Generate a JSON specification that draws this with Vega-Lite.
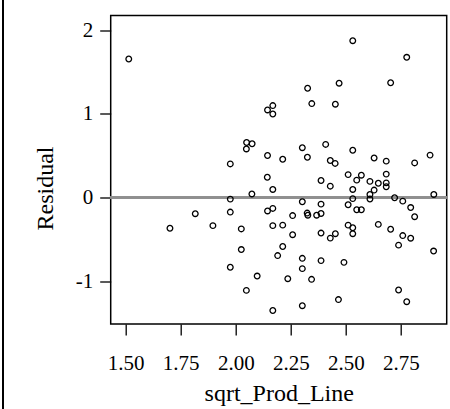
{
  "$schema": "https://vega.github.io/schema/vega-lite/v6.json",
  "width": 336,
  "height": 308.6,
  "autosize": {"type": "none"},
  "padding": {"left": 110.7, "top": 15.5, "right": 3.3, "bottom": 84.9},
  "background": "white",
  "config": {
    "view": {"stroke": "black", "strokeWidth": 1.5},
    "axis": {
      "labelFont": "Liberation Serif",
      "titleFont": "Liberation Serif",
      "labelColor": "black",
      "titleColor": "black",
      "tickColor": "black",
      "labelFontSize": 21,
      "titleFontSize": 24,
      "titleFontWeight": "normal",
      "tickSize": 11,
      "tickWidth": 1.3,
      "domain": false,
      "grid": false
    }
  },
  "data": {
    "values": [
      {"sqrt_Prod_Line": 1.514, "Residual": 1.657},
      {"sqrt_Prod_Line": 2.531, "Residual": 1.876},
      {"sqrt_Prod_Line": 2.776, "Residual": 1.677},
      {"sqrt_Prod_Line": 2.469, "Residual": 1.368},
      {"sqrt_Prod_Line": 2.703, "Residual": 1.373},
      {"sqrt_Prod_Line": 2.326, "Residual": 1.307},
      {"sqrt_Prod_Line": 2.345, "Residual": 1.124},
      {"sqrt_Prod_Line": 2.452, "Residual": 1.117},
      {"sqrt_Prod_Line": 2.168, "Residual": 1.100},
      {"sqrt_Prod_Line": 2.144, "Residual": 1.048},
      {"sqrt_Prod_Line": 2.168, "Residual": 1.000},
      {"sqrt_Prod_Line": 2.049, "Residual": 0.659},
      {"sqrt_Prod_Line": 2.074, "Residual": 0.644},
      {"sqrt_Prod_Line": 2.048, "Residual": 0.582},
      {"sqrt_Prod_Line": 1.975, "Residual": 0.403},
      {"sqrt_Prod_Line": 2.144, "Residual": 0.504},
      {"sqrt_Prod_Line": 2.213, "Residual": 0.459},
      {"sqrt_Prod_Line": 2.302, "Residual": 0.597},
      {"sqrt_Prod_Line": 2.325, "Residual": 0.483},
      {"sqrt_Prod_Line": 2.408, "Residual": 0.636},
      {"sqrt_Prod_Line": 2.429, "Residual": 0.444},
      {"sqrt_Prod_Line": 2.451, "Residual": 0.409},
      {"sqrt_Prod_Line": 2.531, "Residual": 0.566},
      {"sqrt_Prod_Line": 2.628, "Residual": 0.474},
      {"sqrt_Prod_Line": 2.683, "Residual": 0.436},
      {"sqrt_Prod_Line": 2.812, "Residual": 0.415},
      {"sqrt_Prod_Line": 2.882, "Residual": 0.508},
      {"sqrt_Prod_Line": 2.143, "Residual": 0.244},
      {"sqrt_Prod_Line": 2.168, "Residual": 0.098},
      {"sqrt_Prod_Line": 2.387, "Residual": 0.205},
      {"sqrt_Prod_Line": 2.429, "Residual": 0.137},
      {"sqrt_Prod_Line": 2.510, "Residual": 0.275},
      {"sqrt_Prod_Line": 2.549, "Residual": 0.209},
      {"sqrt_Prod_Line": 2.570, "Residual": 0.268},
      {"sqrt_Prod_Line": 2.531, "Residual": 0.098},
      {"sqrt_Prod_Line": 2.609, "Residual": 0.194},
      {"sqrt_Prod_Line": 2.647, "Residual": 0.172},
      {"sqrt_Prod_Line": 2.683, "Residual": 0.281},
      {"sqrt_Prod_Line": 2.683, "Residual": 0.176},
      {"sqrt_Prod_Line": 2.683, "Residual": 0.130},
      {"sqrt_Prod_Line": 2.628, "Residual": 0.090},
      {"sqrt_Prod_Line": 2.609, "Residual": 0.038},
      {"sqrt_Prod_Line": 2.609, "Residual": -0.016},
      {"sqrt_Prod_Line": 2.531, "Residual": -0.012},
      {"sqrt_Prod_Line": 2.721, "Residual": -0.001},
      {"sqrt_Prod_Line": 2.758, "Residual": -0.042},
      {"sqrt_Prod_Line": 2.794, "Residual": -0.119},
      {"sqrt_Prod_Line": 2.812, "Residual": -0.228},
      {"sqrt_Prod_Line": 2.899, "Residual": 0.038},
      {"sqrt_Prod_Line": 2.302, "Residual": -0.049},
      {"sqrt_Prod_Line": 2.387, "Residual": -0.078},
      {"sqrt_Prod_Line": 2.510, "Residual": -0.085},
      {"sqrt_Prod_Line": 2.549, "Residual": -0.145},
      {"sqrt_Prod_Line": 2.570, "Residual": -0.145},
      {"sqrt_Prod_Line": 2.144, "Residual": -0.159},
      {"sqrt_Prod_Line": 2.168, "Residual": -0.129},
      {"sqrt_Prod_Line": 2.258, "Residual": -0.215},
      {"sqrt_Prod_Line": 2.324, "Residual": -0.185},
      {"sqrt_Prod_Line": 2.327, "Residual": -0.210},
      {"sqrt_Prod_Line": 2.367, "Residual": -0.210},
      {"sqrt_Prod_Line": 2.387, "Residual": -0.189},
      {"sqrt_Prod_Line": 2.168, "Residual": -0.335},
      {"sqrt_Prod_Line": 2.213, "Residual": -0.329},
      {"sqrt_Prod_Line": 2.258, "Residual": -0.443},
      {"sqrt_Prod_Line": 2.387, "Residual": -0.424},
      {"sqrt_Prod_Line": 2.429, "Residual": -0.484},
      {"sqrt_Prod_Line": 2.452, "Residual": -0.431},
      {"sqrt_Prod_Line": 2.510, "Residual": -0.329},
      {"sqrt_Prod_Line": 2.531, "Residual": -0.360},
      {"sqrt_Prod_Line": 2.531, "Residual": -0.431},
      {"sqrt_Prod_Line": 2.647, "Residual": -0.320},
      {"sqrt_Prod_Line": 2.703, "Residual": -0.378},
      {"sqrt_Prod_Line": 2.758, "Residual": -0.454},
      {"sqrt_Prod_Line": 2.794, "Residual": -0.485},
      {"sqrt_Prod_Line": 2.739, "Residual": -0.568},
      {"sqrt_Prod_Line": 2.898, "Residual": -0.639},
      {"sqrt_Prod_Line": 2.213, "Residual": -0.585},
      {"sqrt_Prod_Line": 2.190, "Residual": -0.693},
      {"sqrt_Prod_Line": 2.302, "Residual": -0.726},
      {"sqrt_Prod_Line": 2.387, "Residual": -0.753},
      {"sqrt_Prod_Line": 2.491, "Residual": -0.774},
      {"sqrt_Prod_Line": 2.302, "Residual": -0.849},
      {"sqrt_Prod_Line": 2.097, "Residual": -0.938},
      {"sqrt_Prod_Line": 2.236, "Residual": -0.969},
      {"sqrt_Prod_Line": 2.344, "Residual": -0.977},
      {"sqrt_Prod_Line": 2.739, "Residual": -1.105},
      {"sqrt_Prod_Line": 2.776, "Residual": -1.244},
      {"sqrt_Prod_Line": 2.466, "Residual": -1.219},
      {"sqrt_Prod_Line": 2.302, "Residual": -1.292},
      {"sqrt_Prod_Line": 2.168, "Residual": -1.350},
      {"sqrt_Prod_Line": 2.073, "Residual": 0.044},
      {"sqrt_Prod_Line": 1.975, "Residual": -0.018},
      {"sqrt_Prod_Line": 1.975, "Residual": -0.173},
      {"sqrt_Prod_Line": 1.816, "Residual": -0.192},
      {"sqrt_Prod_Line": 1.701, "Residual": -0.366},
      {"sqrt_Prod_Line": 1.896, "Residual": -0.335},
      {"sqrt_Prod_Line": 2.025, "Residual": -0.374},
      {"sqrt_Prod_Line": 2.025, "Residual": -0.621},
      {"sqrt_Prod_Line": 1.975, "Residual": -0.832},
      {"sqrt_Prod_Line": 2.048, "Residual": -1.109}
    ]
  },
  "layer": [
    {
      "mark": {"type": "rule", "color": "#8f8f8f", "strokeWidth": 1.5},
      "encoding": {"y": {"datum": 0, "type": "quantitative"}}
    },
    {
      "mark": {"type": "rule", "color": "black", "strokeWidth": 1.3, "clip": false},
      "encoding": {
        "x": {"datum": 0.944, "type": "quantitative"},
        "y": {"datum": 2.362, "type": "quantitative"},
        "y2": {"datum": -2.527}
      }
    },
    {
      "mark": {"type": "point", "shape": "circle", "filled": false, "color": "black", "size": 32, "strokeWidth": 1.3, "opacity": 1},
      "encoding": {
        "x": {
          "field": "sqrt_Prod_Line",
          "type": "quantitative",
          "scale": {"domain": [1.432, 2.9575], "nice": false, "zero": false},
          "axis": {
            "values": [1.5, 1.75, 2, 2.25, 2.5, 2.75],
            "format": ".2f",
            "labelBaseline": "alphabetic",
            "labelPadding": 34,
            "title": "sqrt_Prod_Line",
            "titleBaseline": "alphabetic",
            "titleY": 76.4
          }
        },
        "y": {
          "field": "Residual",
          "type": "quantitative",
          "scale": {"domain": [-1.512, 2.177], "nice": false, "zero": false},
          "axis": {
            "values": [-1, 0, 1, 2],
            "labelExpr": "'' + datum.value",
            "labelPadding": 7,
            "labelBaseline": "middle",
            "title": "Residual",
            "titleAngle": 270,
            "titleBaseline": "alphabetic",
            "titleX": -58,
            "titleY": 172.5
          }
        }
      }
    }
  ]
}
